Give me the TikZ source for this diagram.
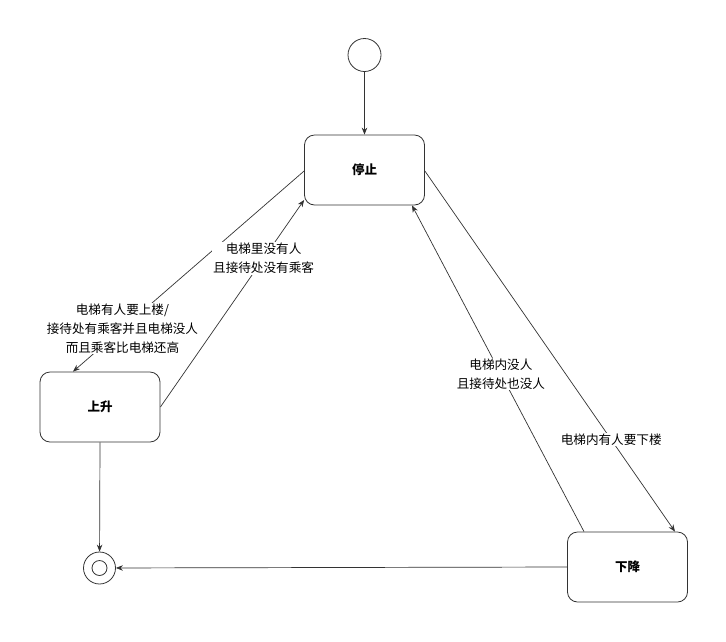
\documentclass[tikz,border=0pt]{standalone}
\usepackage{fontspec}
\setmainfont{Noto Sans CJK SC}
\usetikzlibrary{arrows.meta,calc}
\definecolor{lc}{HTML}{333333}
\tikzset{
  state/.style={draw=lc, line width=0.8pt, rounded corners=10pt, minimum width=120pt, minimum height=70pt, inner sep=0pt, font=\fontsize{12.5}{14}\selectfont\bfseries},
  conn/.style={draw=lc, line width=0.7pt, -{Stealth[length=7pt,width=5.5pt]}},
  lbl/.style={fill=white, inner sep=1pt, align=center, text=black, font=\fontsize{12.6}{19}\selectfont},
  ring/.style={draw=lc, line width=0.8pt, circle, inner sep=0pt}
}
\begin{document}
\begin{tikzpicture}[x=1pt,y=-1pt]
\useasboundingbox (0,0) rectangle (726,641);
\node[ring, minimum size=33pt] (start) at (364.5,55) {};
\node[state] (stop) at (364.5,170) {停止};
\node[state] (up) at (100,407) {上升};
\node[state] (down) at (627.5,567) {下降};
\node[ring, minimum size=32pt] (end) at (99.5,568) {};
\node[ring, minimum size=15pt] (endin) at (99.5,568) {};

\draw[conn] (start) -- (stop.north);
\draw[conn] ([yshift=-1pt]stop.west) -- node[lbl, pos=0.786] {电梯有人要上楼/\\接待处有乘客并且电梯没人\\而且乘客比电梯还高} ([xshift=-27pt]up.north);
\draw[conn] (up.east) -- node[lbl, pos=0.718] {电梯里没有人\\且接待处没有乘客} ([yshift=-30pt]stop.west);
\draw[conn] ([yshift=-1pt]stop.east) -- node[lbl, pos=0.745] {电梯内有人要下楼} ([xshift=47.5pt]down.north);
\draw[conn] ([xshift=-43.5pt]down.north) -- node[lbl, pos=0.483] {电梯内没人\\且接待处也没人} ([xshift=47.5pt]stop.south);
\draw[conn] (up.south) -- (end);
\draw[conn] (down.west) -- (end);
\end{tikzpicture}
\end{document}
